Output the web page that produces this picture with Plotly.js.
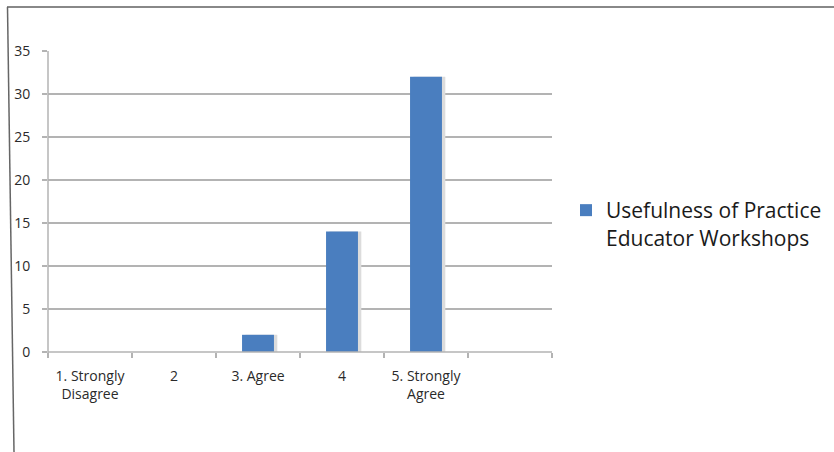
<!DOCTYPE html>
<html>
<head>
<meta charset="utf-8">
<script src="https://cdn.plot.ly/plotly-3.0.1.min.js"></script>
<style>html,body{margin:0;padding:0;background:#fff;}#chart{width:834px;height:452px;}</style>
</head>
<body>
<div id="chart"></div>
<script>
var categories = ['1. Strongly<br>Disagree', '2', '3. Agree', '4', '5. Strongly<br>Agree'];
var positions = [0, 1, 2, 3, 4];
var values = [0, 0, 2, 14, 32];
var seriesName = 'Usefulness of Practice<br>Educator Workshops';
var yTicks = [0, 5, 10, 15, 20, 25, 30, 35];

var L = 48, R = 552, T = 51, B = 352, W = 834, H = 452;
function px(x) { return (x - L) / (R - L); }
function py(y) { return (B - y) / (B - T); }

var shadow = {
  type: 'bar', x: positions.map(function (p) { return p + 0.04; }), y: values,
  width: 0.38, marker: { color: '#dcdcdc' }, showlegend: false, hoverinfo: 'skip'
};
var main = {
  type: 'bar', x: positions, y: values, name: seriesName,
  width: 0.38, marker: { color: '#4a7ebf' }
};

var layout = {
  width: W, height: H,
  margin: { l: L, r: W - R, t: T, b: H - B, pad: 0, autoexpand: false },
  paper_bgcolor: '#fff', plot_bgcolor: '#fff',
  barmode: 'overlay',
  font: { family: 'Open Sans, Noto Sans, sans-serif', color: '#2a2a2a', size: 12 },
  xaxis: {
    range: [-0.5, 5.5], tickmode: 'array', tickvals: positions, ticktext: categories,
    ticks: '', showgrid: false, zeroline: false, showline: false,
    tickfont: { size: 14, color: '#2a2a2a' }, ticklabelstandoff: 14,
    minor: { tickmode: 'linear', tick0: -0.5, dtick: 1, ticks: 'outside', ticklen: 5, tickcolor: '#b3b3b3', tickwidth: 1.5, showgrid: false },
    fixedrange: true
  },
  yaxis: {
    range: [0, 35], tickmode: 'array', tickvals: yTicks,
    ticks: 'outside', ticklen: 5, tickcolor: '#b3b3b3', tickwidth: 1.5,
    showgrid: true, gridcolor: '#b3b3b3', gridwidth: 1.5,
    zeroline: false, showline: false,
    tickfont: { size: 14, color: '#2a2a2a' }, ticklabelstandoff: 9,
    fixedrange: true
  },
  showlegend: true,
  legend: {
    x: px(566), y: py(190), xanchor: 'left', yanchor: 'top', valign: 'top',
    font: { size: 21, color: '#1a1a1a' }, bgcolor: 'rgba(0,0,0,0)', itemwidth: 30, traceorder: 'normal'
  },
  shapes: [
    { type: 'line', xref: 'paper', yref: 'paper', x0: px(L), x1: px(L), y0: py(B + 1), y1: py(T), line: { color: '#b3b3b3', width: 1.5 } },
    { type: 'line', xref: 'paper', yref: 'paper', x0: px(L), x1: px(R), y0: py(B), y1: py(B), line: { color: '#b3b3b3', width: 1.5 } },
    { type: 'line', xref: 'paper', yref: 'paper', x0: px(7), x1: px(W), y0: py(7), y1: py(7), line: { color: '#888', width: 2 } },
    { type: 'line', xref: 'paper', yref: 'paper', x0: px(7.5), x1: px(14), y0: py(7), y1: py(H), line: { color: '#666', width: 1.5 } }
  ]
};

Plotly.newPlot('chart', [shadow, main], layout, { displayModeBar: false, staticPlot: true });
</script>
</body>
</html>
